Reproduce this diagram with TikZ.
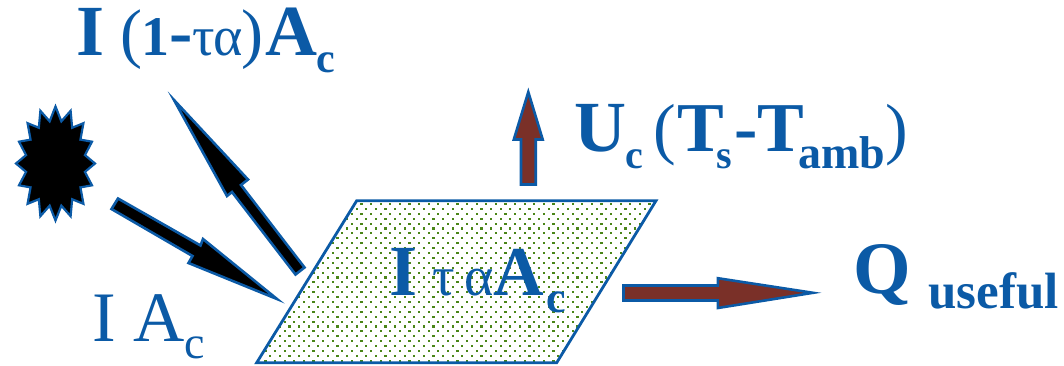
\documentclass[tikz,border=0pt]{standalone}
\usepackage{fontspec}
\setmainfont{Liberation Serif}
\definecolor{lblue}{HTML}{0B5AA6}
\definecolor{brickred}{HTML}{7A3028}
\definecolor{dotgreen}{HTML}{4A8518}
\newcommand{\fs}[1]{\fontsize{#1}{#1}\selectfont}
\newcommand{\subtxt}[3]{\raisebox{-#1pt}{\fs{#2}\textbf{#3}}}
\tikzset{
  blockblack/.style={draw=lblue,line width=2.6pt,fill=black,miter limit=20,line join=miter},
  blockred/.style={draw=lblue,line width=2.6pt,fill=brickred,miter limit=20,line join=miter},
  lab/.style={text=lblue,inner sep=0pt,outer sep=0pt,anchor=base west,font=\bfseries}
}
\begin{document}
\begin{tikzpicture}[x=1pt,y=-1pt]
\useasboundingbox (0,0) rectangle (1064,365);
% sun
\path[blockblack,line width=2.2pt]
  plot[samples at={0,...,31},variable=\k]
  ({55.5+(mod(\k,2)==0?39.5:30)*sin(\k*11.25)},{163.5-(mod(\k,2)==0?57:43)*cos(\k*11.25)}) -- cycle;
% collector
\begin{scope}
  \clip (356.7,200.7) -- (656,200.7) -- (556.7,362.7) -- (256.7,362.7) -- cycle;
  \foreach \r in {0,...,34}{
    \pgfmathsetmacro{\yy}{198+\r*4.9}
    \pgfmathsetmacro{\xs}{250+mod(\r,2)*4.8}
    \foreach \c in {0,...,43}{
      \fill[dotgreen] ({\xs+\c*9.6},{\yy}) rectangle ++(2.1,2.1);
    }
  }
\end{scope}
\path[draw=lblue,line width=2.8pt,line join=miter]
  (356.7,200.7) -- (656,200.7) -- (556.7,362.7) -- (256.7,362.7) -- cycle;
% block arrows
\path[blockblack] (118,198.5) -- (200.5,245.5) -- (203,239) -- (277,299) -- (188.5,263) -- (192.5,256) -- (111.5,209) -- cycle;
\path[blockblack] (174,100) -- (248,179.5) -- (241,185) -- (304.5,267.5) -- (295.5,274.5) -- (232,192) -- (227,196) -- cycle;
\path[blockred] (528.3,92) -- (542.7,139.5) -- (535.7,139.5) -- (535.7,184.5) -- (521,184.5) -- (521,139.5) -- (513.8,139.5) -- cycle;
\path[blockred] (813,292.8) -- (717.8,278.2) -- (717.8,285.5) -- (623.5,285.5) -- (623.5,300.5) -- (717.8,300.5) -- (717.8,308) -- cycle;
% labels
\node[lab] (topflux) at (76,55) {\fs{72}I\hspace{16pt}\textmd{\fs{66}(}\fs{56}1\fs{70}-\hspace{-1pt}\textmd{\fs{56}τ\hspace{-1pt}α\hspace{-2pt}\fs{66})}\hspace{2pt}\fs{72}A\hspace{-1pt}\subtxt{17}{42}{c}};
\node[lab,font=\mdseries] (influx) at (92,341) {\fs{71}I A\raisebox{-17pt}{\fs{46}c}};
\node[lab] (absorbed) at (389,295) {\fs{72}I\hspace{15pt}\textmd{\fs{56}τ\hspace{10pt}α}\fs{70}A\hspace{2pt}\subtxt{17}{44}{c}};
\node[lab] (lossflux) at (574,151) {\fs{72}U\hspace{-1pt}\subtxt{17}{40}{c}\hspace{11pt}\textmd{\fs{68}(}\hspace{1pt}\fs{70}T\hspace{-8pt}\subtxt{17}{40}{s}\hspace{3pt}-T\hspace{-6pt}\subtxt{17}{46}{amb}\textmd{\fs{68})}};
\node[lab] (useful) at (853,293) {\fs{74}Q\hspace{18pt}\subtxt{15}{51}{useful}};
\end{tikzpicture}
\end{document}
